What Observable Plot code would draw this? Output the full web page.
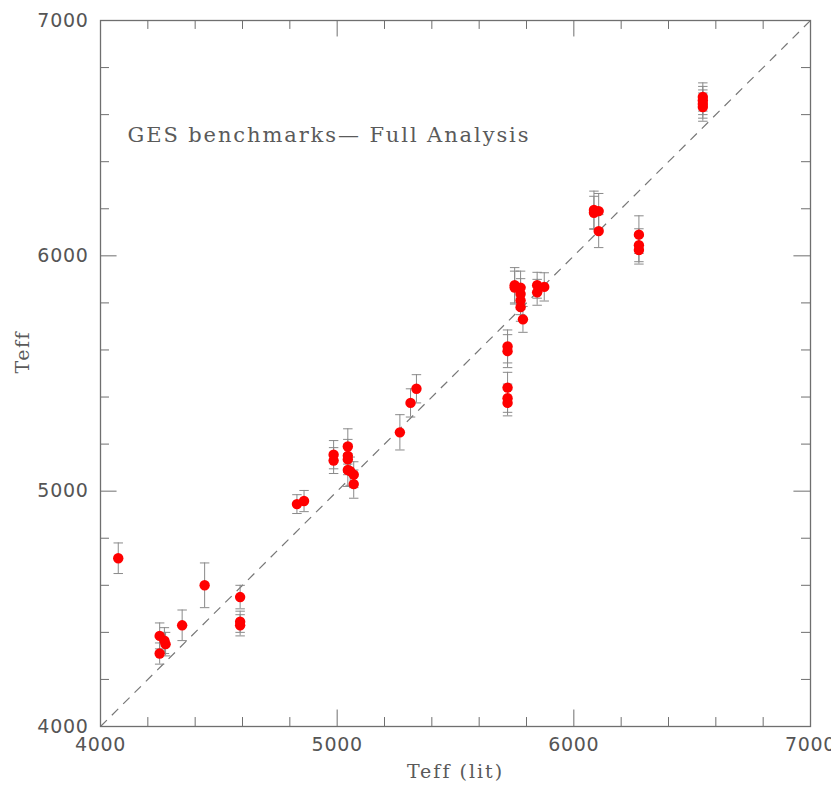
<!DOCTYPE html>
<html>
<head>
<meta charset="utf-8">
<script src="https://cdn.jsdelivr.net/npm/d3@7"></script>
<script src="https://cdn.jsdelivr.net/npm/@observablehq/plot@0.6"></script>
<style>
  html, body { margin: 0; padding: 0; background: #fff; }
  #chart svg { display: block; }
</style>
</head>
<body>
<div id="chart"></div>
<script>
// Literature effective temperatures of the benchmark stars (K)
const teffLit = [
  4075, 4250, 4270, 4275, 4250, 4345, 4440, 4590, 4590, 4590,
  4830, 4860, 4985, 4985, 5045, 5045, 5045, 5045, 5055, 5070,
  5070, 5265, 5310, 5335, 5720, 5720, 5720, 5720, 5720, 5750,
  5750, 5775, 5775, 5775, 5775, 5785, 5845, 5845, 5875, 6085,
  6085, 6105, 6105, 6275, 6275, 6275, 6545, 6545, 6545, 6545
];
// Effective temperatures from the full analysis (K)
const teffAna = [
  4715, 4385, 4365, 4350, 4310, 4430, 4600, 4550, 4445, 4430,
  4945, 4958, 5155, 5130, 5190, 5150, 5135, 5090, 5085, 5070,
  5030, 5250, 5375, 5435, 5615, 5595, 5440, 5395, 5375, 5875,
  5865, 5865, 5838, 5810, 5782, 5730, 5875, 5845, 5868, 6195,
  6183, 6190, 6105, 6090, 6045, 6025, 6675, 6660, 6645, 6632
];
// One-sigma uncertainties on the analysed temperatures (K)
const teffErr = [
  65, 55, 55, 50, 45, 65, 95, 50, 45, 45,
  40, 45, 60, 55, 75, 70, 65, 70, 60, 55,
  60, 75, 60, 60, 70, 70, 65, 60, 55, 75,
  70, 70, 65, 60, 60, 55, 55, 55, 60, 80,
  70, 75, 70, 80, 70, 60, 60, 60, 60, 60
];

const domain = [4000, 7000];
const majorTicks = [4000, 5000, 6000, 7000];
const minorTicks = d3.range(4000, 7001, 200).filter(t => !majorTicks.includes(t));
const titleText = ["GES benchmarks\u2014 Full Analysis"];
const xLabel = ["Teff (lit)"];
const yLabel = ["Teff"];
const identity = [{a: 4000, b: 7000}];

const stars = teffLit.map((x, i) => ({x, y: teffAna[i], e: teffErr[i]}));

const axisGray = "#6f6f6f";
const majorLen = 70, minorLen = 38, capHalf = 20;

// Inward-pointing ticks on all four sides of the frame
const sideTicks = (ticks, len) => [
  Plot.ruleX(ticks, {x: d => d, y1: domain[0], y2: domain[0] + len, stroke: axisGray, strokeWidth: 1}),
  Plot.ruleX(ticks, {x: d => d, y1: domain[1], y2: domain[1] - len, stroke: axisGray, strokeWidth: 1}),
  Plot.ruleY(ticks, {y: d => d, x1: domain[0], x2: domain[0] + len, stroke: axisGray, strokeWidth: 1}),
  Plot.ruleY(ticks, {y: d => d, x1: domain[1], x2: domain[1] - len, stroke: axisGray, strokeWidth: 1})
];

const chart = Plot.plot({
  width: 831,
  height: 788,
  marginLeft: 100,
  marginRight: 21,
  marginTop: 20,
  marginBottom: 62,
  style: {fontFamily: "DejaVu Sans", background: "#fff", overflow: "visible"},
  x: {domain, axis: null},
  y: {domain, axis: null},
  marks: [
    Plot.link(identity, {x1: "a", y1: "a", x2: "b", y2: "b", stroke: "#777", strokeWidth: 1.2, strokeDasharray: "9,7"}),
    Plot.frame({stroke: axisGray, strokeWidth: 1.3}),
    ...sideTicks(majorTicks, majorLen),
    ...sideTicks(minorTicks, minorLen),
    Plot.axisX({ticks: majorTicks, tickSize: 0, tickPadding: 11, tickFormat: d => String(d), fontSize: 19, fill: "#555", label: null}),
    Plot.axisY({ticks: majorTicks, tickSize: 0, tickPadding: 12, tickFormat: d => String(d), fontSize: 19, fill: "#555", label: null}),
    // error bars with caps
    Plot.ruleX(stars, {x: "x", y1: d => d.y - d.e, y2: d => d.y + d.e, stroke: "#8a8a8a", strokeWidth: 1}),
    Plot.link(stars, {x1: d => d.x - capHalf, x2: d => d.x + capHalf, y1: d => d.y + d.e, y2: d => d.y + d.e, stroke: "#8a8a8a", strokeWidth: 1}),
    Plot.link(stars, {x1: d => d.x - capHalf, x2: d => d.x + capHalf, y1: d => d.y - d.e, y2: d => d.y - d.e, stroke: "#8a8a8a", strokeWidth: 1}),
    Plot.dot(stars, {x: "x", y: "y", r: 5.2, fill: "#ff0000", stroke: null}),
    Plot.text(titleText, {text: d => d, frameAnchor: "top-left", dx: 27, dy: 107, textAnchor: "start", fontSize: 21, fill: "#5a5a5a", fontFamily: "DejaVu Serif"}),
    Plot.text(xLabel, {text: d => d, frameAnchor: "bottom", dy: 51, fontSize: 19, fill: "#5a5a5a", fontFamily: "DejaVu Serif"}),
    Plot.text(yLabel, {text: d => d, frameAnchor: "left", dx: -78, dy: 0, rotate: -90, fontSize: 19, fill: "#5a5a5a", fontFamily: "DejaVu Serif"})
  ]
});

// Wider letter spacing, in the manner of plotter stroke fonts
const spacing = new Map([[titleText[0], "1.9px"], [xLabel[0], "2px"], [yLabel[0], "1.5px"]]);
d3.select(chart).selectAll("text").each(function() {
  const t = this.textContent;
  const ls = spacing.get(t) ?? (/^\d+$/.test(t) ? "0.7px" : null);
  if (ls) this.style.letterSpacing = ls;
});

document.getElementById("chart").append(chart);
</script>
</body>
</html>
